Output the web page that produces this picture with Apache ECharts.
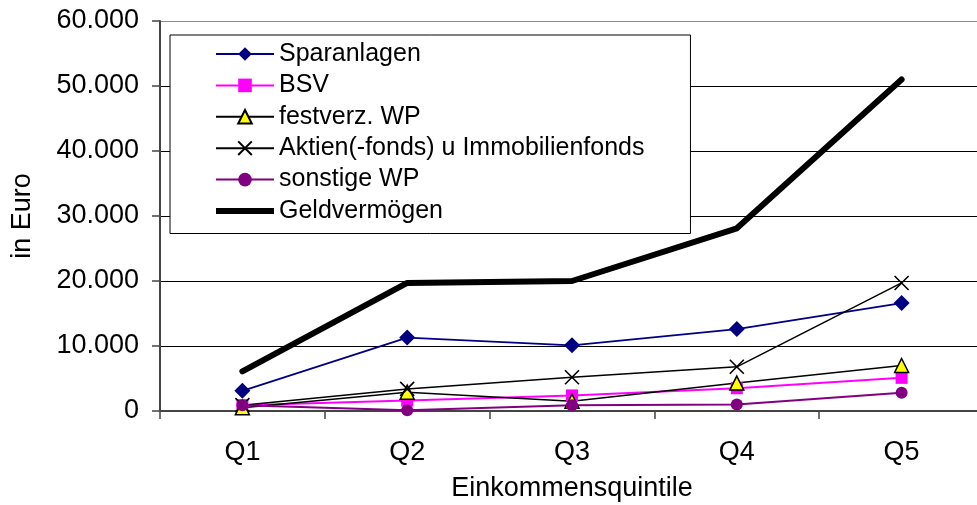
<!DOCTYPE html>
<html>
<head>
<meta charset="utf-8">
<script src="https://cdn.jsdelivr.net/npm/echarts@6/dist/echarts.min.js"></script>
<style>
  html, body { margin: 0; padding: 0; background: #fff; }
  #chart { width: 977px; height: 505px; }
</style>
</head>
<body>
<div id="chart"></div>
<script>
// Einkommensquintile
const categories = ['Q1', 'Q2', 'Q3', 'Q4', 'Q5']
// Werte in Euro
const sparanlagen = [3100, 11300, 10100, 12600, 16600]
const bsv = [900, 1600, 2400, 3500, 5100]
const festverzWP = [500, 2900, 1500, 4300, 7000]
const aktienImmo = [900, 3400, 5200, 6800, 19700]
const sonstigeWP = [900, 100, 900, 1000, 2800]
const geldvermoegen = [6100, 19700, 20000, 28100, 51000]
const yTicks = [0, 10000, 20000, 30000, 40000, 50000, 60000]

const font = "'Liberation Sans', Arial, sans-serif"
const fmt = (v) => String(v).replace(/\B(?=(\d{3})+(?!\d))/g, '.')

const chart = echarts.init(document.getElementById('chart'))

const option = {
  backgroundColor: '#fff',
  animation: false,
  textStyle: { fontFamily: font },
  grid: {
    left: 160,
    right: -7,
    top: 21,
    bottom: 94,
    containLabel: false,
    outerBoundsMode: 'none'
  },
  legend: {
    orient: 'vertical',
    left: 170,
    top: 35,
    padding: [6.5, 46, 10, 45],
    itemWidth: 58,
    itemHeight: 17,
    itemGap: 6.4,
    backgroundColor: '#fff',
    borderColor: '#000',
    borderWidth: 1,
    borderRadius: 0,
    textStyle: { fontSize: 25, color: '#000', fontFamily: font },
    data: [
      'Sparanlagen',
      'BSV',
      'festverz. WP',
      'Aktien(-fonds) u Immobilienfonds',
      'sonstige WP',
      // Geldvermögen hat keine Marker: nur ein dicker Strich
      { name: 'Geldvermögen', icon: 'path://M0,0L58,0L58,6L0,6Z' }
    ]
  },
  xAxis: {
    type: 'category',
    data: categories,
    boundaryGap: true,
    name: 'Einkommensquintile',
    nameLocation: 'middle',
    nameGap: 64,
    nameTextStyle: { fontSize: 27, color: '#000', fontFamily: font },
    axisLine: { lineStyle: { color: '#444', width: 2 } },
    axisTick: { show: true, length: 8, alignWithLabel: false, lineStyle: { color: '#444', width: 1.5 } },
    axisLabel: { fontSize: 27, color: '#000', margin: 28, fontFamily: font }
  },
  yAxis: {
    type: 'value',
    min: yTicks[0],
    max: yTicks[yTicks.length - 1],
    interval: 10000,
    name: 'in Euro',
    nameLocation: 'middle',
    nameGap: 124,
    nameTextStyle: { fontSize: 27, color: '#000', fontFamily: font },
    axisLine: { show: true, lineStyle: { color: '#444', width: 2 } },
    axisTick: { show: true, length: 8, lineStyle: { color: '#444', width: 1.5 } },
    axisLabel: { fontSize: 27, color: '#000', margin: 21, fontFamily: font, formatter: fmt },
    splitLine: {
      show: true,
      lineStyle: { color: ['#000', '#000', '#000', '#000', '#000', '#000', '#8c8c8c'], width: 1 }
    }
  },
  series: [
    {
      name: 'Sparanlagen',
      type: 'line',
      data: sparanlagen,
      symbol: 'diamond',
      symbolSize: 16,
      itemStyle: { color: '#000080' },
      lineStyle: { color: '#000080', width: 1.8 }
    },
    {
      name: 'BSV',
      type: 'line',
      data: bsv,
      symbol: 'rect',
      symbolSize: 12,
      itemStyle: { color: '#ff00ff' },
      lineStyle: { color: '#ff00ff', width: 2 }
    },
    {
      name: 'festverz. WP',
      type: 'line',
      data: festverzWP,
      symbol: 'triangle',
      symbolSize: 14,
      itemStyle: { color: '#ffff00', borderColor: '#000', borderWidth: 1.5 },
      lineStyle: { color: '#000', width: 1.5 }
    },
    {
      name: 'Aktien(-fonds) u Immobilienfonds',
      type: 'line',
      data: aktienImmo,
      symbol: 'path://M0,0L10,10M10,0L0,10',
      symbolSize: 14,
      itemStyle: { color: '#000', borderColor: '#000', borderWidth: 1.6 },
      lineStyle: { color: '#000', width: 1.5 }
    },
    {
      name: 'sonstige WP',
      type: 'line',
      data: sonstigeWP,
      symbol: 'circle',
      symbolSize: 12,
      itemStyle: { color: '#800080' },
      lineStyle: { color: '#800080', width: 2 }
    },
    {
      name: 'Geldvermögen',
      type: 'line',
      data: geldvermoegen,
      symbol: 'none',
      itemStyle: { color: '#000' },
      lineStyle: { color: '#000', width: 6, cap: 'round', join: 'round' }
    }
  ]
}

chart.setOption(option)
</script>
</body>
</html>
